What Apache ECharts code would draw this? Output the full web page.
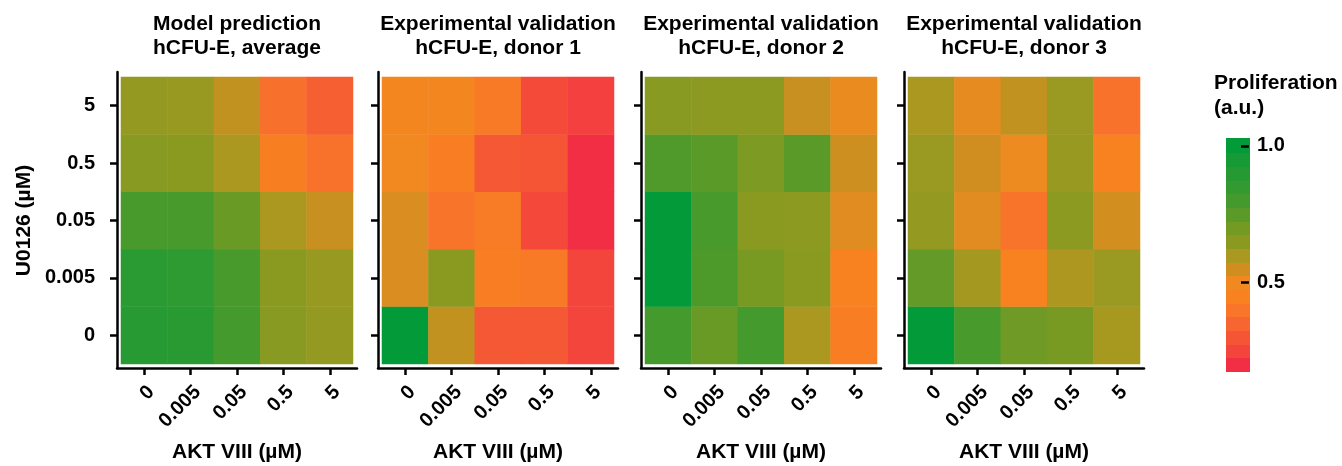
<!DOCTYPE html>
<html><head><meta charset="utf-8">
<script src="https://cdn.jsdelivr.net/npm/echarts@6/dist/echarts.min.js"></script>
<style>html,body{margin:0;padding:0;background:#fff}#c{width:1342px;height:466px}</style>
</head><body><div id="c"></div>
<script>
// ---------- data ----------
const aktLabels = ['0', '0.005', '0.05', '0.5', '5'];      // x categories (AKT VIII, µM)
const u0126Labels = ['0', '0.005', '0.05', '0.5', '5'];    // y categories (U0126, µM), bottom -> top
const panelTitles = [
  'Model prediction\nhCFU-E, average',
  'Experimental validation\nhCFU-E, donor 1',
  'Experimental validation\nhCFU-E, donor 2',
  'Experimental validation\nhCFU-E, donor 3'
];
// each row = one U0126 level (bottom row first), columns = AKT VIII levels
const modelAverage = [
  [0.89, 0.885, 0.80, 0.655, 0.635],
  [0.88, 0.87, 0.79, 0.65, 0.63],
  [0.79, 0.79, 0.72, 0.60, 0.56],
  [0.655, 0.65, 0.60, 0.44, 0.39],
  [0.635, 0.63, 0.57, 0.385, 0.33]
];
const donor1 = [
  [1.00, 0.57, 0.31, 0.31, 0.25],
  [0.535, 0.65, 0.43, 0.42, 0.25],
  [0.535, 0.395, 0.425, 0.26, 0.195],
  [0.49, 0.43, 0.31, 0.30, 0.195],
  [0.475, 0.475, 0.42, 0.265, 0.24]
];
const donor2 = [
  [0.80, 0.72, 0.80, 0.60, 0.43],
  [1.00, 0.78, 0.69, 0.65, 0.445],
  [1.00, 0.79, 0.65, 0.645, 0.525],
  [0.775, 0.75, 0.68, 0.75, 0.555],
  [0.655, 0.645, 0.645, 0.56, 0.51]
];
const donor3 = [
  [1.00, 0.79, 0.71, 0.69, 0.605],
  [0.73, 0.61, 0.45, 0.595, 0.625],
  [0.635, 0.525, 0.395, 0.645, 0.545],
  [0.625, 0.55, 0.505, 0.63, 0.445],
  [0.60, 0.515, 0.57, 0.625, 0.39]
];
// colour scale (legend bands, bottom -> top)
const scaleCenters = [0.20, 0.25, 0.30, 0.35, 0.40, 0.45, 0.50, 0.55, 0.60, 0.65, 0.70, 0.75, 0.80, 0.85, 0.90, 0.95, 1.00];
const scaleColors = ['#F22E45', '#F4453C', '#F55535', '#F76630', '#F8752A', '#F8821F', '#F08A20', '#D08E20', '#AA9820',
                     '#8A9A21', '#749A24', '#5A9A29', '#459A2D', '#329A31', '#259A33', '#169A36', '#039A3A'];
const scaleTicks = [0.5, 1.0];

// ---------- chart ----------
const panels = [modelAverage, donor1, donor2, donor3];
const FONT = '"Liberation Sans", Arial, sans-serif';
const gridLefts = [121, 382, 645, 908];
const GT = 77, GW = 232, GH = 287;
const AX = {color: '#000', width: 2.5};
const txt = (size) => ({color: '#000', fontFamily: FONT, fontWeight: 'bold', fontSize: size});

const grid = [], xAxis = [], yAxis = [], series = [], title = [];
panels.forEach((vals, p) => {
  grid.push({left: gridLefts[p], top: GT, width: GW, height: GH, outerBoundsMode: 'none', containLabel: false});
  title.push({
    text: panelTitles[p], left: gridLefts[p] + GW / 2, top: 12, textAlign: 'center', padding: 0,
    textStyle: Object.assign(txt(21), {lineHeight: 24})
  });
  xAxis.push({
    type: 'category', gridIndex: p, data: aktLabels, offset: 4, z: 6,
    axisLine: {show: false},
    axisTick: {show: true, alignWithLabel: true, inside: false, length: 7, lineStyle: AX},
    axisLabel: Object.assign(txt(20), {rotate: 45, margin: 14, verticalAlign: 'top'}),
    name: 'AKT VIII (µM)', nameLocation: 'middle', nameGap: 74, nameMoveOverlap: false,
    nameTextStyle: txt(21),
    splitLine: {show: false}
  });
  yAxis.push({
    type: 'category', gridIndex: p, data: u0126Labels, offset: 4, z: 6,
    axisLine: {show: false},
    axisTick: {show: true, alignWithLabel: true, inside: false, length: 7, lineStyle: AX},
    axisLabel: Object.assign(txt(20), {show: p === 0, margin: 22}),
    name: p === 0 ? 'U0126 (µM)' : '', nameLocation: 'middle', nameGap: 82, nameRotate: 90, nameMoveOverlap: false,
    nameTextStyle: txt(21),
    splitLine: {show: false}
  });
  const data = [];
  vals.forEach((row, yi) => row.forEach((v, xi) => data.push([xi, yi, v])));
  series.push({
    type: 'heatmap', xAxisIndex: p, yAxisIndex: p, data: data,
    itemStyle: {borderWidth: 0}, emphasis: {disabled: true}, progressive: 0
  });
});

// colour legend drawn as its own small grid (index 4)
grid.push({left: 1226, top: 139, width: 24, height: 232, outerBoundsMode: 'none', containLabel: false});
xAxis.push({type: 'value', gridIndex: 4, min: 0, max: 1, show: false});
const step = 0.05;
yAxis.push({
  type: 'value', gridIndex: 4, position: 'right', min: 0.175, max: 1.025,
  axisLine: {show: false}, splitLine: {show: false}, axisTick: {show: false},
  axisLabel: Object.assign(txt(20), {show: true, margin: 7, customValues: scaleTicks, formatter: v => v.toFixed(1)})
});
series.push({
  type: 'custom', xAxisIndex: 4, yAxisIndex: 4,
  data: scaleCenters.map((c, i) => [i, c]),
  encode: {x: 0, y: 1},
  renderItem: (params, api) => {
    const i = api.value(0), c = api.value(1);
    const a = api.coord([0, c + step / 2]);
    const b = api.coord([1, c - step / 2]);
    return {type: 'rect', shape: {x: a[0], y: Math.floor(a[1]), width: b[0] - a[0], height: Math.ceil(b[1] - a[1]) + 1},
      style: {fill: scaleColors[i]}};
  },
  silent: true, z: 2
});
// legend tick marks (second y axis on legend grid, shifted onto the bar's right edge)
yAxis.push({
  type: 'value', gridIndex: 4, position: 'left', offset: -23, min: 0.175, max: 1.025, z: 10,
  axisLine: {show: false}, splitLine: {show: false}, axisLabel: {show: false},
  axisTick: {show: true, inside: false, length: 8, customValues: scaleTicks, lineStyle: {color: '#000', width: 2.5}}
});
title.push({
  text: 'Proliferation\n(a.u.)', left: 1214, top: 71, padding: 0,
  textStyle: Object.assign(txt(21), {lineHeight: 25})
});

// L-shaped axis frames around each heatmap
panels.forEach((vals, p) => {
  const gi = grid.length;
  grid.push({left: gridLefts[p] - 4, top: GT - 5, width: GW + 8, height: GH + 9, outerBoundsMode: 'none', containLabel: false});
  xAxis.push({type: 'value', gridIndex: gi, min: 0, max: 1, position: 'bottom', z: 5,
    axisLine: {show: true, lineStyle: AX}, axisTick: {show: false}, axisLabel: {show: false}, splitLine: {show: false}});
  yAxis.push({type: 'value', gridIndex: gi, min: 0, max: 1, position: 'left', z: 5,
    axisLine: {show: true, lineStyle: AX}, axisTick: {show: false}, axisLabel: {show: false}, splitLine: {show: false}});
});

const chart = echarts.init(document.getElementById('c'), null, {renderer: 'canvas'});
chart.setOption({
  animation: false,
  backgroundColor: '#fff',
  title: title,
  grid: grid, xAxis: xAxis, yAxis: yAxis,
  visualMap: {
    type: 'continuous', show: false, min: 0.2, max: 1.0, seriesIndex: [0, 1, 2, 3], dimension: 2,
    inRange: {color: scaleColors}
  },
  series: series
});
</script>
</body></html>
